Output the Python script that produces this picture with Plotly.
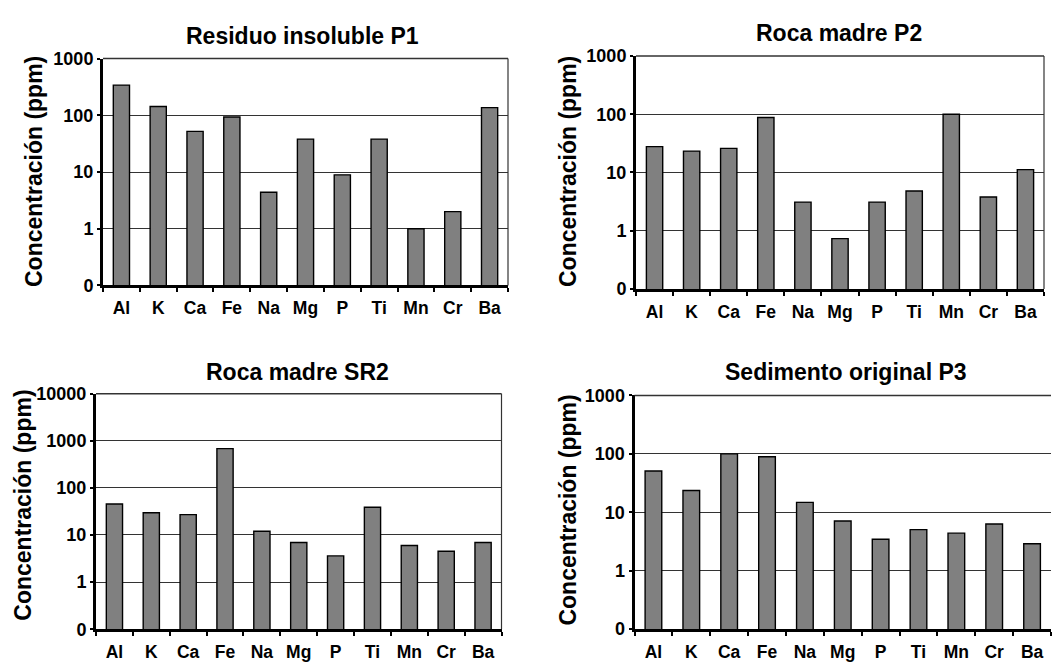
import plotly.graph_objects as go

W, H = 1054, 668

elements = ["Al", "K", "Ca", "Fe", "Na", "Mg", "P", "Ti", "Mn", "Cr", "Ba"]

residuo_p1 = [340, 143, 52, 93, 4.4, 38, 8.9, 38, 1.0, 2.0, 136]
roca_p2 = [27.8, 23.3, 26, 88, 3.1, 0.73, 3.1, 4.8, 100, 3.8, 11.2]
roca_sr2 = [45.5, 29.7, 27, 680, 12, 6.9, 3.6, 38.8, 6.0, 4.5, 6.9]
sedimento_p3 = [51, 23.6, 100, 89, 14.8, 7.1, 3.45, 5.06, 4.4, 6.3, 2.9]

titles = ["Residuo insoluble P1", "Roca madre P2", "Roca madre SR2", "Sedimento original P3"]
y_title = "Concentración (ppm)"

tick_vals_3 = [0.1, 1, 10, 100, 1000]
tick_text_3 = ["0", "1", "10", "100", "1000"]
tick_vals_4 = [0.1, 1, 10, 100, 1000, 10000]
tick_text_4 = ["0", "1", "10", "100", "1000", "10000"]

FONT = "Liberation Sans, Arial, sans-serif"

# panel boxes in pixels: left, right, top, bottom
panels = [
    dict(box=(103, 508, 50, 284), data=residuo_p1, top=3, ticks=(tick_vals_3, tick_text_3),
         title_xy=(302, 27), ytitle_xy=(34, 167), right_border=True),
    dict(box=(636, 1044, 47.5, 287.5), data=roca_p2, top=3, ticks=(tick_vals_3, tick_text_3),
         title_xy=(839, 24), ytitle_xy=(568, 167), right_border=True),
    dict(box=(96, 501.5, 395.5, 638.3), data=roca_sr2, top=4, ticks=(tick_vals_4, tick_text_4),
         title_xy=(297, 373), ytitle_xy=(23, 511), right_border=True),
    dict(box=(634.5, 1051, 397.3, 638.3), data=sedimento_p3, top=3, ticks=(tick_vals_3, tick_text_3),
         title_xy=(846, 373), ytitle_xy=(568, 516), right_border=False),
]


def px(x):
    return x / W


def py(y):
    return 1 - y / H


fig = go.Figure()
shapes = []
annotations = []

for i, p in enumerate(panels, start=1):
    sfx = "" if i == 1 else str(i)
    l, r, t, b = p["box"]
    fig.add_trace(go.Bar(
        x=elements, y=p["data"],
        xaxis="x" + sfx, yaxis="y" + sfx,
        marker=dict(color="#808080", line=dict(color="#000000", width=1.4)),
        width=0.44, showlegend=False,
    ))
    tv, tt = p["ticks"]
    fig.update_layout(**{
        "xaxis" + sfx: dict(
            domain=[px(l), px(r)], anchor="y" + sfx, type="category",
            showline=True, linecolor="#000000", linewidth=3,
            ticks="outside", tickson="boundaries", ticklen=4, tickwidth=2,
            tickcolor="#000000", showgrid=False, fixedrange=True,
            ticklabelstandoff=5,
            tickfont=dict(family=FONT, size=17.5, color="#000000", weight="bold"),
        ),
        "yaxis" + sfx: dict(
            domain=[py(b), py(t)], anchor="x" + sfx, type="log",
            range=[-1, p["top"]], tickvals=tv, ticktext=tt,
            showline=True, linecolor="#000000", linewidth=3,
            ticks="outside", ticklen=3, tickwidth=2, tickcolor="#000000",
            showgrid=True, gridcolor="#333333", gridwidth=1,
            zeroline=False, fixedrange=True,
            tickfont=dict(family=FONT, size=18, color="#000000", weight="bold"),
        ),
    })
    # thin frame on the top and right sides
    shapes.append(dict(type="line", xref=f"x{sfx} domain", yref=f"y{sfx} domain",
                       x0=0, x1=1, y0=1, y1=1, line=dict(color="#333333", width=1.5)))
    if p["right_border"]:
        shapes.append(dict(type="line", xref=f"x{sfx} domain", yref=f"y{sfx} domain",
                           x0=1, x1=1, y0=0, y1=1, line=dict(color="#333333", width=1.2)))
    tx, ty = p["title_xy"]
    annotations.append(dict(
        text=titles[i - 1], x=px(tx), y=py(ty), xref="paper", yref="paper",
        xanchor="center", yanchor="middle", showarrow=False,
        font=dict(family=FONT, size=23, color="#000000", weight="bold"),
    ))
    yx, yy = p["ytitle_xy"]
    annotations.append(dict(
        text=y_title, x=px(yx), y=py(yy), xref="paper", yref="paper",
        xanchor="center", yanchor="middle", showarrow=False, textangle=-90,
        font=dict(family=FONT, size=23, color="#000000", weight="bold"),
    ))

fig.update_layout(
    width=W, height=H,
    margin=dict(l=0, r=0, t=0, b=0),
    paper_bgcolor="#ffffff", plot_bgcolor="#ffffff",
    bargap=0.56,
    shapes=shapes, annotations=annotations,
    font=dict(family=FONT, color="#000000"),
)

fig.write_html("out.html", config={"displayModeBar": False})
